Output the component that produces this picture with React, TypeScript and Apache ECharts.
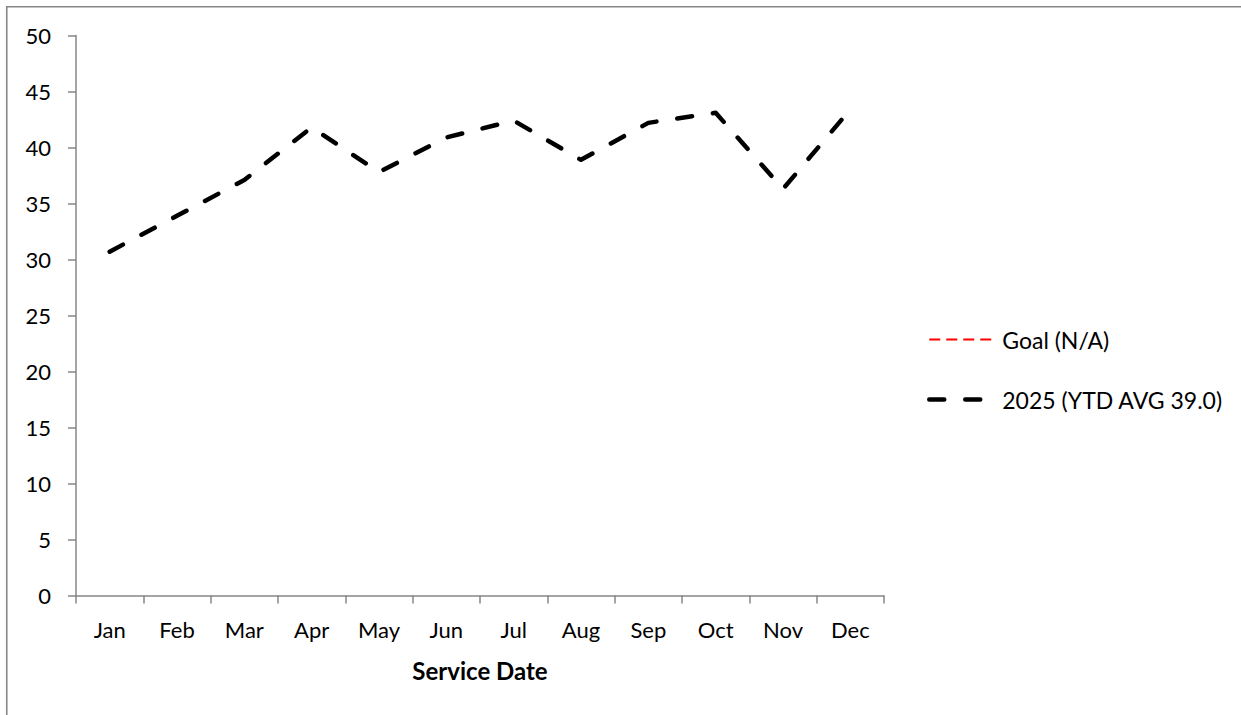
import React, { useEffect, useRef } from "react";
import * as echarts from "echarts";

// Monthly values for the service-date line chart
const months = ["Jan", "Feb", "Mar", "Apr", "May", "Jun", "Jul", "Aug", "Sep", "Oct", "Nov", "Dec"];
const values2025 = [30.7, 33.9, 37.1, 41.8, 37.8, 40.9, 42.4, 38.9, 42.2, 43.1, 36.3, 43.4];
const goalValues: (number | null)[] = [];
const yTicks = { min: 0, max: 50, interval: 5 };

const goalName = "Goal (N/A)";
const seriesName = "2025 (YTD AVG 39.0)";
const xTitle = "Service Date";

const FONT = "Lato, 'Open Sans', sans-serif";
const AXIS_GRAY = "#868686";

export default function App() {
  const ref = useRef<HTMLDivElement>(null);

  useEffect(() => {
    if (!ref.current) return;
    const chart = echarts.init(ref.current, undefined, { renderer: "svg" });

    const blackDash = { color: "#000000", width: 4.5, type: [15, 21] as number[], cap: "round" as const, join: "round" as const };
    const redDash = { color: "#FF0000", width: 2, type: [11, 6] as number[], cap: "butt" as const };

    chart.setOption({
      animation: false,
      backgroundColor: "#ffffff",
      textStyle: { fontFamily: FONT },
      graphic: [
        {
          type: "rect",
          shape: { x: 6.75, y: 6.75, width: 1400, height: 900 },
          style: { fill: "none", stroke: AXIS_GRAY, lineWidth: 1.6 },
          silent: true,
        },
      ],
      grid: { left: 76, top: 35.5, width: 808, height: 560 },
      legend: {
        orient: "vertical",
        left: 927,
        top: 328,
        itemWidth: 66,
        itemHeight: 22,
        itemGap: 37,
        padding: 0,
        itemStyle: { opacity: 0 },
        textStyle: { fontFamily: FONT, fontSize: 23, color: "#000", lineHeight: 22, padding: [0, 0, 0, 2] },
        data: [
          { name: goalName, lineStyle: redDash, itemStyle: { opacity: 0 } },
          { name: seriesName, lineStyle: blackDash, itemStyle: { opacity: 0 } },
        ],
      },
      xAxis: {
        type: "category",
        data: months,
        boundaryGap: true,
        axisLine: { show: true, lineStyle: { color: AXIS_GRAY, width: 1.5 } },
        axisTick: { show: true, alignWithLabel: false, length: 8, lineStyle: { color: AXIS_GRAY, width: 1.5 } },
        axisLabel: { color: "#000", fontFamily: FONT, fontSize: 22, margin: 23 },
        name: xTitle,
        nameLocation: "middle",
        nameGap: 63,
        nameTextStyle: { color: "#000", fontFamily: FONT, fontSize: 24, fontWeight: "bold" },
        splitLine: { show: false },
      },
      yAxis: {
        type: "value",
        min: yTicks.min,
        max: yTicks.max,
        interval: yTicks.interval,
        axisLine: { show: true, lineStyle: { color: AXIS_GRAY, width: 1.5 } },
        axisTick: { show: true, length: 8, lineStyle: { color: AXIS_GRAY, width: 1.5 } },
        axisLabel: { color: "#000", fontFamily: FONT, fontSize: 22, margin: 25 },
        splitLine: { show: false },
      },
      series: [
        {
          name: goalName,
          type: "line",
          data: goalValues,
          symbol: "none",
          itemStyle: { color: "#FF0000" },
          lineStyle: redDash,
        },
        {
          name: seriesName,
          type: "line",
          data: values2025,
          symbol: "none",
          itemStyle: { color: "#000000" },
          lineStyle: blackDash,
        },
      ],
    });

    return () => chart.dispose();
  }, []);

  return <div ref={ref} style={{ position: "absolute", left: 0, top: 0, width: 1241, height: 715 }} />;
}
